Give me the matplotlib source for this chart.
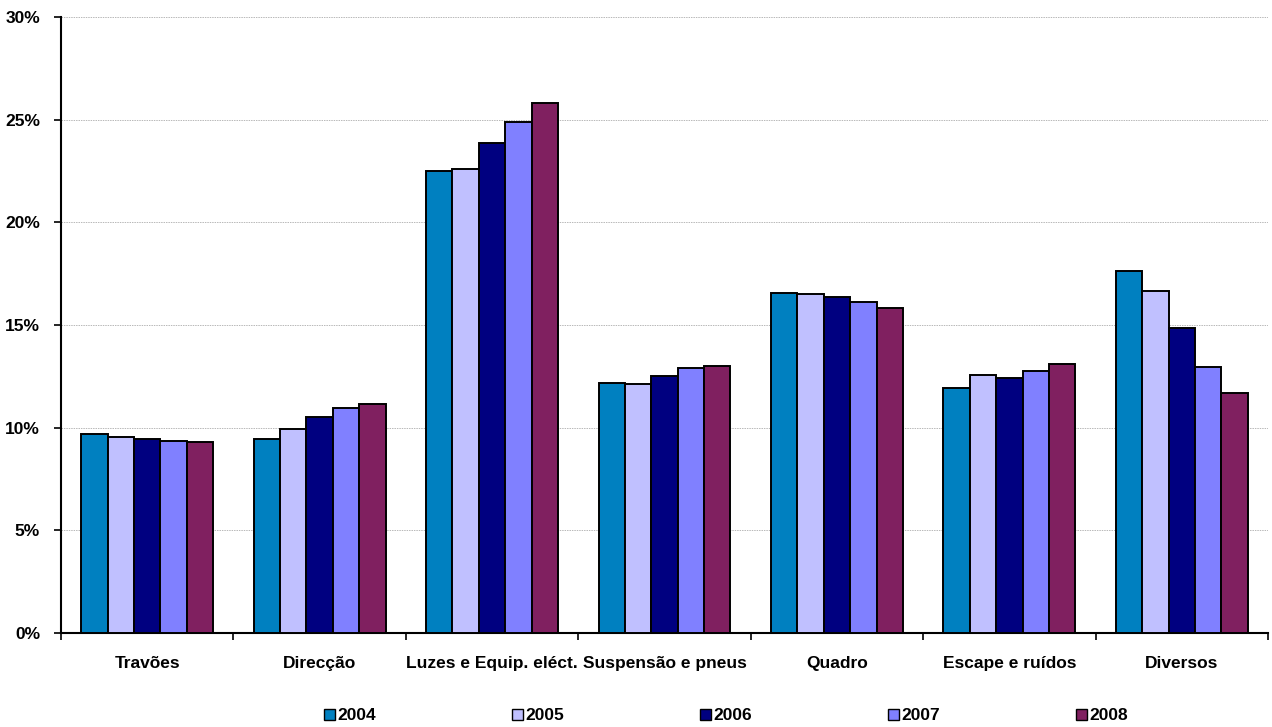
import matplotlib
matplotlib.use("Agg")
import matplotlib.pyplot as plt
import numpy as np
from matplotlib.patches import Patch
from matplotlib.ticker import FuncFormatter, FixedLocator

plt.rcParams['font.family'] = ['Liberation Sans', 'DejaVu Sans']

categories = ["Travões", "Direcção", "Luzes e Equip. eléct.", "Suspensão e pneus",
              "Quadro", "Escape e ruídos", "Diversos"]
years = ["2004", "2005", "2006", "2007", "2008"]
v2004 = [9.69, 9.46, 22.52, 12.18, 16.56, 11.95, 17.63]
v2005 = [9.55, 9.95, 22.58, 12.15, 16.50, 12.57, 16.67]
v2006 = [9.45, 10.50, 23.88, 12.52, 16.37, 12.44, 14.87]
v2007 = [9.35, 10.95, 24.89, 12.89, 16.14, 12.78, 12.96]
v2008 = [9.30, 11.17, 25.83, 13.00, 15.83, 13.12, 11.70]
series = [v2004, v2005, v2006, v2007, v2008]
colors = ["#0080C0", "#C0C0FF", "#000080", "#8080FF", "#802060"]

fs = 12.5
fig = plt.figure(figsize=(12.72, 7.27), dpi=100)
ax = fig.add_axes([61/1272, 94/727, 1207/1272, 616/727])

n = len(categories)
x = np.arange(n)
bw = 0.153
for i, (vals, c) in enumerate(zip(series, colors)):
    offs = (i - 2) * bw
    ax.bar(x + offs, vals, width=bw, color=c, edgecolor="black", linewidth=1.4,
           zorder=3, label=years[i])

ax.set_xlim(-0.5, n - 0.5)
ax.set_ylim(0, 30)
ax.set_yticks(np.arange(0, 31, 5))
ax.yaxis.set_major_formatter(FuncFormatter(lambda v, p: f"{int(v)}%"))
ax.yaxis.grid(True, color="#b8b8b8", linewidth=0.7, linestyle=(0, (1.5, 1)), zorder=0)
ax.set_axisbelow(True)

ax.set_xticks(x)
ax.set_xticklabels(categories, fontsize=fs, fontweight="bold")
ax.tick_params(axis="x", which="major", length=0, pad=16.5)
ax.xaxis.set_minor_locator(FixedLocator(np.arange(-0.5, n, 1.0)))
ax.tick_params(axis="x", which="minor", length=5, width=1.2, direction="out")
ax.tick_params(axis="y", length=5, width=1.2, direction="out", labelsize=fs, pad=10)
for lab in ax.get_yticklabels():
    lab.set_fontweight("bold")

for s in ["top", "right"]:
    ax.spines[s].set_visible(False)
ax.spines["left"].set_linewidth(1.5)
ax.spines["bottom"].set_linewidth(1.5)

handles = [Patch(facecolor=c, edgecolor="black", linewidth=1.0, label=y) for c, y in zip(colors, years)]
leg = fig.legend(handles=handles, loc="center", bbox_to_anchor=(726/1272, 1 - 716/727),
                 ncol=5, frameon=False, handlelength=0.6, handleheight=0.6,
                 handletextpad=0.15, columnspacing=7.85,
                 prop={"weight": "bold", "size": fs})

fig.savefig("out.png", dpi=100)
